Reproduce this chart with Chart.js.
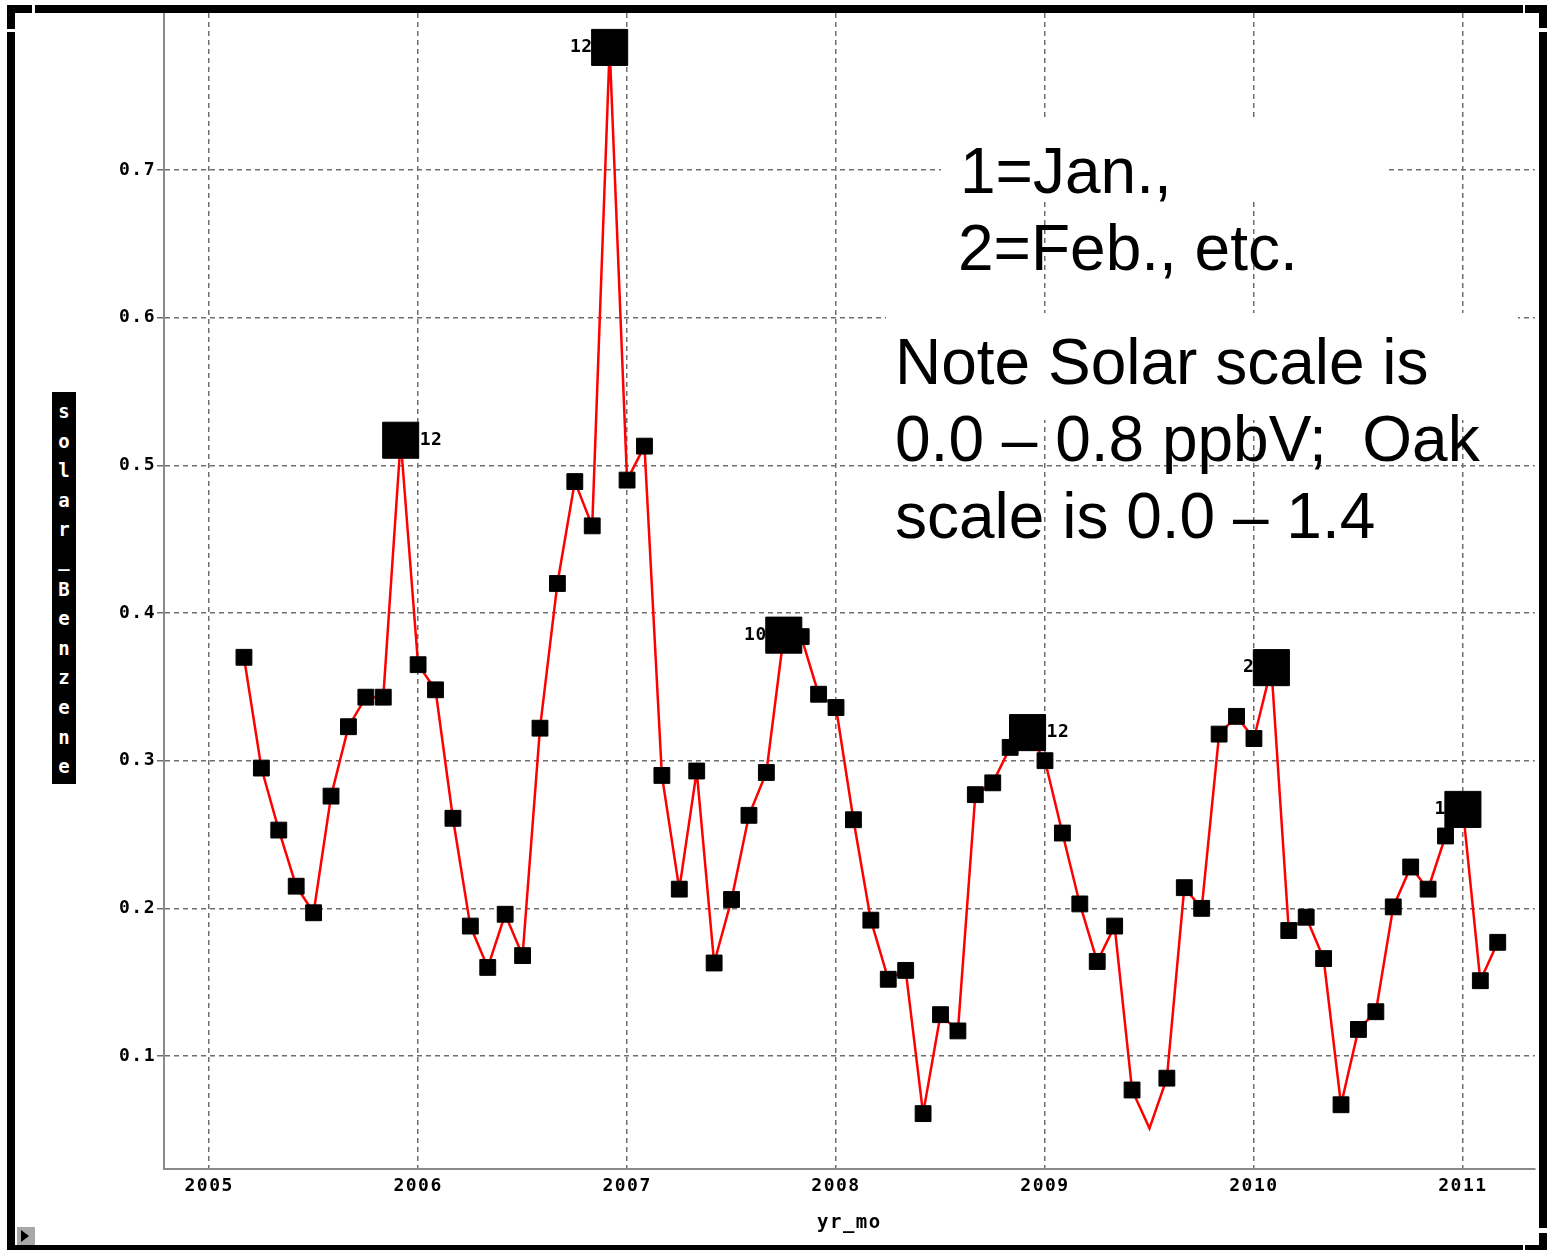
<!DOCTYPE html>
<html>
<head>
<meta charset="utf-8">
<script src="https://cdn.jsdelivr.net/npm/chart.js@4.4.1/dist/chart.umd.min.js"></script>
<style>
html,body{margin:0;padding:0;background:#fff;}
#wrap{position:relative;width:1547px;height:1250px;overflow:hidden;background:#fff;}
#c{position:absolute;left:0;top:0;}
.bar{position:absolute;background:#000;}
.mask{position:absolute;background:#fff;}
.note{position:absolute;font-family:'Liberation Sans',Arial,sans-serif;font-size:64px;line-height:77px;color:#000;white-space:pre;}
#ytitle{position:absolute;left:52px;top:392px;width:24px;height:392px;overflow:hidden;background:#000;color:#fff;
  font-family:'DejaVu Sans Mono',monospace;font-weight:bold;font-size:19px;line-height:24px;
  writing-mode:vertical-lr;text-orientation:upright;letter-spacing:7.6px;box-sizing:border-box;padding-top:8px;}
#btn{position:absolute;left:15px;top:1225px;width:20px;height:20px;background:#a8a8a8;box-sizing:border-box;border-top:2px solid #fff;border-left:2px solid #fff;}
#btn:after{content:"";position:absolute;left:4px;top:3px;border-left:8px solid #000;border-top:6px solid transparent;border-bottom:6px solid transparent;}
</style>
</head>
<body>
<div id="wrap">
<canvas id="c" width="1547" height="1250"></canvas>

<div class="mask" style="left:941px;top:117px;width:444px;height:82px;"></div>
<div class="mask" style="left:886px;top:313px;width:632px;height:107px;"></div>

<div class="note" style="left:960px;top:133px;">1=Jan.,</div>
<div class="note" style="left:958px;top:210px;">2=Feb., etc.</div>
<div class="note" style="left:895px;top:324px;">Note Solar scale is
0.0 – 0.8 ppbV;  Oak
scale is 0.0 – 1.4</div>

<div id="ytitle">solar_Benzene</div>

<!-- outer frame -->
<div class="bar" style="left:7px;top:5px;width:25px;height:8px;"></div>
<div class="bar" style="left:7px;top:5px;width:8px;height:24px;"></div>
<div class="bar" style="left:7px;top:32px;width:8px;height:1218px;"></div>
<div class="bar" style="left:35px;top:5px;width:1488px;height:8px;"></div>
<div class="bar" style="left:1525px;top:5px;width:22px;height:8px;"></div>
<div class="bar" style="left:1539px;top:5px;width:8px;height:23px;"></div>
<div class="bar" style="left:1539px;top:32px;width:8px;height:1196px;"></div>
<div class="bar" style="left:1539px;top:1233px;width:8px;height:17px;"></div>
<div class="bar" style="left:7px;top:1245px;width:1516px;height:5px;"></div>
<div class="bar" style="left:1525px;top:1245px;width:22px;height:5px;"></div>
<div id="btn"></div>
</div>

<script>
// ---- data ----
const yrMo = [
  '2005-03','2005-04','2005-05','2005-06','2005-07','2005-08','2005-09','2005-10','2005-11','2005-12',
  '2006-01','2006-02','2006-03','2006-04','2006-05','2006-06','2006-07','2006-08','2006-09','2006-10','2006-11','2006-12',
  '2007-01','2007-02','2007-03','2007-04','2007-05','2007-06','2007-07','2007-08','2007-09','2007-10','2007-11','2007-12',
  '2008-01','2008-02','2008-03','2008-04','2008-05','2008-06','2008-07','2008-08','2008-09','2008-10','2008-11','2008-12',
  '2009-01','2009-02','2009-03','2009-04','2009-05','2009-06','2009-07','2009-08','2009-09','2009-10','2009-11','2009-12',
  '2010-01','2010-02','2010-03','2010-04','2010-05','2010-06','2010-07','2010-08','2010-09','2010-10','2010-11','2010-12',
  '2011-01','2011-02','2011-03'
];
const benzene2005 = [0.370,0.295,0.253,0.215,0.197,0.276,0.323,0.343,0.343,0.517];
const benzene2006 = [0.365,0.348,0.261,0.188,0.160,0.196,0.168,0.322,0.420,0.489,0.459,0.783];
const benzene2007 = [0.490,0.513,0.290,0.213,0.293,0.163,0.206,0.263,0.292,0.385,0.384,0.345];
const benzene2008 = [0.336,0.260,0.192,0.152,0.158,0.061,0.128,0.117,0.277,0.285,0.309,0.319];
const benzene2009 = [0.300,0.251,0.203,0.164,0.188,0.077,0.051,0.085,0.214,0.200,0.318,0.330];
const benzene2010 = [0.315,0.363,0.185,0.194,0.166,0.067,0.118,0.130,0.201,0.228,0.213,0.249];
const benzene2011 = [0.267,0.151,0.177];

const peakMonths = ['2005-12','2006-12','2007-10','2008-12','2010-02','2011-01'];
const peakTexts  = ['12','12','10','12','2','1'];
const peakSides  = ['right','left','left','right','left','left'];
const noMarkerMonths = ['2009-07'];

const xTickYears = [2005,2006,2007,2008,2009,2010,2011];
const yTickValues = [0.1,0.2,0.3,0.4,0.5,0.6,0.7];

// ---- build ----
const benzene = [].concat(benzene2005,benzene2006,benzene2007,benzene2008,benzene2009,benzene2010,benzene2011);
const toYear = s => { const [y,m] = s.split('-').map(Number); return y + (m-1)/12; };
const points = yrMo.map((s,i) => ({x: toYear(s), y: benzene[i]}));
const radii = yrMo.map(s => noMarkerMonths.includes(s) ? 0 : (peakMonths.includes(s) ? 25.5 : 11.2));

const tickFont = {family:'DejaVu Sans Mono', weight:'bold', size:18};
const gridColor = '#6e6e6e';
const axisColor = '#8a8a8a';

const spacingPlugin = {
  id:'spacing',
  beforeDraw(chart){ if ('letterSpacing' in chart.ctx) chart.ctx.letterSpacing = '1.5px'; }
};
const peakLabelPlugin = {
  id:'peakLabels',
  afterDatasetsDraw(chart){
    const meta = chart.getDatasetMeta(0);
    const c = chart.ctx;
    c.save();
    if ('letterSpacing' in c) c.letterSpacing = '0.5px';
    c.font = 'bold 18px "DejaVu Sans Mono"';
    c.fillStyle = '#000';
    c.textBaseline = 'middle';
    peakMonths.forEach((m,k) => {
      const el = meta.data[yrMo.indexOf(m)];
      if (!el) return;
      if (peakSides[k] === 'right') { c.textAlign = 'left'; c.fillText(peakTexts[k], el.x + 19, el.y); }
      else { c.textAlign = 'right'; c.fillText(peakTexts[k], el.x - 17, el.y); }
    });
    c.restore();
  }
};

new Chart(document.getElementById('c'), {
  type: 'line',
  data: {
    datasets: [{
      label: 'solar_Benzene',
      data: points,
      borderColor: '#ff0000',
      borderWidth: 2.5,
      tension: 0,
      pointStyle: 'rect',
      pointRadius: radii,
      pointHoverRadius: radii,
      pointBackgroundColor: '#000',
      pointBorderColor: '#000',
      pointBorderWidth: 1,
      fill: false
    }]
  },
  options: {
    responsive: false,
    animation: false,
    devicePixelRatio: 1,
    events: [],
    layout: {padding: {left: 0, right: 9, top: 13, bottom: 0}},
    plugins: {legend: {display: false}, tooltip: {enabled: false}, title: {display: false}},
    scales: {
      x: {
        type: 'linear',
        position: 'bottom',
        min: 2004.784,
        max: 2011.344,
        afterBuildTicks: s => { s.ticks = xTickYears.map(v => ({value: v})); },
        afterFit: s => { s.height = 81; },
        ticks: {callback: v => String(v), font: tickFont, color: '#000', padding: 7, maxRotation: 0, autoSkip: false},
        grid: {color: gridColor, lineWidth: 1.5, drawTicks: false},
        border: {color: axisColor, width: 2, dash: [5,4]},
        title: {display: true, text: 'yr_mo', font: {family:'DejaVu Sans Mono', weight:'bold', size:19}, color: '#000', padding: {top: 0, bottom: 16}}
      },
      y: {
        type: 'linear',
        min: 0.0235,
        max: 0.8063,
        afterBuildTicks: s => { s.ticks = yTickValues.map(v => ({value: v})); },
        afterFit: s => { s.width = 164; },
        ticks: {callback: v => Number(v).toFixed(1), font: tickFont, color: '#000', padding: 1},
        grid: {color: gridColor, lineWidth: 1.5, tickLength: 7, tickColor: gridColor, tickBorderDash: []},
        border: {color: axisColor, width: 2, dash: [5,4]}
      }
    }
  },
  plugins: [spacingPlugin, peakLabelPlugin]
});
</script>
</body>
</html>
